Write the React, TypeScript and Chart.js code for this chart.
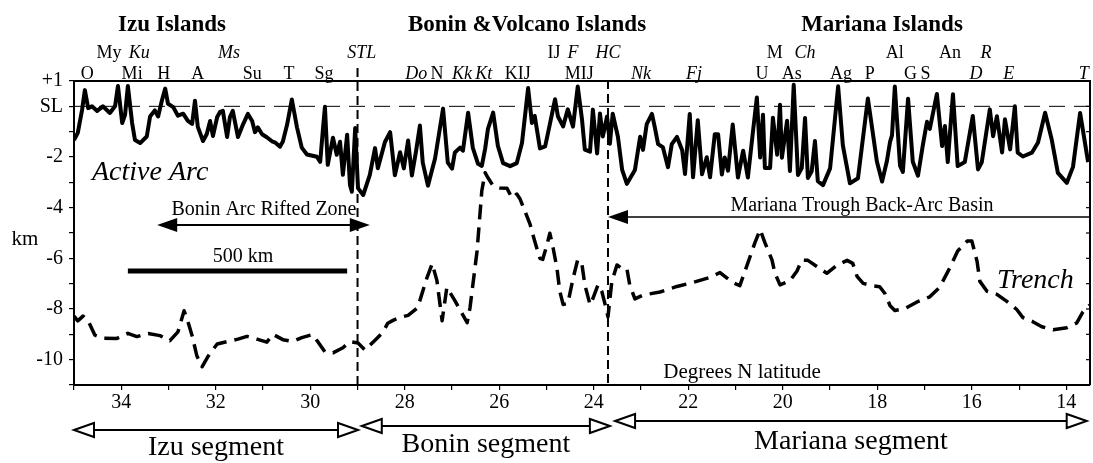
import React, { useEffect, useRef } from 'react';
import { Chart, registerables } from 'chart.js';

Chart.register(...registerables);

const SERIF = '"Liberation Serif", "Times New Roman", Times, serif';
const W = 1093;
const H = 463;

// Active arc crest: latitude (deg N) and elevation (km, relative to sea level)
const arcLat = [
  35.0, 34.92, 34.83, 34.77, 34.70, 34.62, 34.51, 34.39, 34.24, 34.13,
  34.07, 33.98, 33.92, 33.86, 33.77, 33.71, 33.60, 33.46, 33.39, 33.29,
  33.22, 33.14, 33.07, 33.01, 32.90, 32.80, 32.69, 32.59, 32.50, 32.44,
  32.38, 32.27, 32.19, 32.12, 32.06, 31.97, 31.91, 31.85, 31.76, 31.70,
  31.64, 31.53, 31.42, 31.32, 31.23, 31.17, 31.11, 31.02, 30.92, 30.81,
  30.75, 30.64, 30.58, 30.49, 30.39, 30.28, 30.18, 30.07, 29.86, 29.79,
  29.73, 29.69, 29.63, 29.52, 29.44, 29.37, 29.31, 29.22, 29.16, 29.12,
  29.05, 28.99, 28.88, 28.74, 28.63, 28.57, 28.42, 28.31, 28.21, 28.10,
  28.02, 27.93, 27.85, 27.76, 27.68, 27.62, 27.51, 27.36, 27.19, 27.09,
  27.00, 26.94, 26.83, 26.77, 26.66, 26.56, 26.45, 26.37, 26.30, 26.24,
  26.13, 26.03, 25.92, 25.77, 25.63, 25.52, 25.39, 25.31, 25.25, 25.14,
  25.03, 24.97, 24.82, 24.76, 24.65, 24.55, 24.44, 24.34, 24.25, 24.19,
  24.08, 24.02, 23.93, 23.87, 23.81, 23.72, 23.66, 23.60, 23.49, 23.40,
  23.30, 23.13, 23.02, 22.96, 22.88, 22.77, 22.71, 22.64, 22.54, 22.43,
  22.35, 22.24, 22.13, 22.07, 21.97, 21.90, 21.80, 21.71, 21.61, 21.54,
  21.44, 21.37, 21.29, 21.23, 21.16, 21.06, 20.95, 20.84, 20.74, 20.70,
  20.63, 20.55, 20.48, 20.42, 20.38, 20.27, 20.21, 20.12, 20.06, 20.02,
  19.91, 19.85, 19.77, 19.68, 19.60, 19.53, 19.47, 19.39, 19.32, 19.26,
  19.15, 19.00, 18.83, 18.73, 18.58, 18.41, 18.20, 18.01, 17.90, 17.80,
  17.73, 17.69, 17.63, 17.52, 17.46, 17.35, 17.25, 17.14, 17.04, 16.95,
  16.89, 16.74, 16.63, 16.57, 16.51, 16.40, 16.30, 16.15, 15.98, 15.87,
  15.79, 15.62, 15.55, 15.47, 15.36, 15.30, 15.19, 15.09, 15.03, 14.92,
  14.73, 14.60, 14.45, 14.31, 14.18, 13.99, 13.86, 13.71, 13.54,
];
const arcDepth = [
  -1.33, -1.05, -0.15, 0.64, -0.07, 0.0, -0.18, 0.0, -0.26, 0.01,
  0.80, -0.66, -0.34, 0.80, -0.66, -1.33, -1.45, -1.19, -0.40, -0.16,
  -0.40, 0.23, 0.70, 0.10, -0.03, -0.37, -0.29, -0.57, -0.69, 0.22,
  -0.81, -1.37, -1.09, -0.58, -1.17, -0.42, -0.22, -0.18, -1.21, -0.42,
  -0.18, -1.21, -0.70, -0.30, -0.58, -1.02, -0.83, -1.10, -1.22, -1.38,
  -1.42, -1.59, -1.39, -0.72, 0.27, -0.84, -1.63, -1.90, -1.99, -2.19,
  -0.85, -0.02, -2.31, -1.24, -1.91, -1.40, -2.70, -1.12, -3.10, -3.37,
  -0.86, -3.23, -3.50, -2.71, -1.65, -2.44, -1.41, -1.02, -2.72, -1.81,
  -2.45, -1.35, -2.73, -1.75, -0.76, -2.22, -3.13, -2.06, -0.09, -2.22,
  -2.46, -1.82, -1.63, -1.75, -0.25, -1.64, -2.27, -2.35, -1.68, -0.89,
  -0.25, -1.56, -2.24, -2.36, -2.24, -1.45, 0.72, -0.66, -0.38, -1.66,
  -1.58, -1.06, 0.28, -0.39, -0.79, -0.12, -0.80, 0.78, -0.52, -1.71,
  -1.79, -0.13, -1.86, -0.28, -1.19, -0.40, -1.48, -0.29, -1.20, -2.51,
  -3.06, -2.51, -1.20, -1.72, -0.70, -0.30, -0.82, -1.49, -1.61, -2.40,
  -1.49, -1.21, -1.73, -2.67, -0.30, -2.80, -0.55, -2.68, -2.01, -2.80,
  -1.10, -1.10, -2.69, -2.02, -2.54, -0.72, -2.81, -1.75, -2.81, -2.14,
  -0.96, 0.35, -2.02, -0.33, -2.43, -2.43, -0.45, -1.91, 0.06, -2.03,
  -0.57, -2.55, 0.85, -2.71, -2.44, -0.46, -2.83, -2.56, -1.37, -2.95,
  -3.11, -2.45, 0.79, -1.54, -3.04, -2.84, 0.31, -2.18, -2.97, -2.18,
  -1.39, -1.15, 0.78, -2.34, -2.59, 0.30, -2.19, -2.74, -1.56, -0.61,
  -0.89, 0.49, -1.57, -0.78, -2.20, 0.48, -2.36, -2.20, -0.38, -2.49,
  -2.21, -0.12, -1.18, -0.39, -1.82, -0.51, -1.70, 0.0, -1.83, -1.98,
  -1.83, -1.43, -0.25, -1.31, -2.63, -3.02, -2.39, -0.26, -2.20,
];

// Trench axis: latitude (deg N) and depth (km)
const trenchLat = [
  35.0, 34.92, 34.81, 34.70, 34.56, 34.39, 34.09, 33.86, 33.67, 33.43,
  33.18, 32.97, 32.80, 32.67, 32.59, 32.50, 32.40, 32.29, 32.16, 31.97,
  31.70, 31.53, 31.34, 31.11, 30.92, 30.79, 30.58, 30.37, 30.18, 29.96,
  29.84, 29.69, 29.52, 29.31, 29.16, 28.99, 28.84, 28.63, 28.46, 28.36,
  28.25, 28.10, 27.93, 27.74, 27.68, 27.53, 27.42, 27.32, 27.21, 27.11,
  26.94, 26.68, 26.62, 26.47, 26.37, 26.30, 26.24, 26.13, 25.99, 25.84,
  25.73, 25.63, 25.56, 25.46, 25.35, 25.25, 25.14, 25.08, 24.99, 24.93,
  24.86, 24.78, 24.72, 24.65, 24.55, 24.44, 24.34, 24.25, 24.19, 24.08,
  24.02, 23.91, 23.83, 23.76, 23.70, 23.62, 23.51, 23.40, 23.30, 23.24,
  23.13, 22.96, 22.60, 22.24, 21.90, 21.54, 21.33, 21.06, 20.91, 20.76,
  20.59, 20.48, 20.38, 20.23, 20.17, 20.06, 19.85, 19.70, 19.60, 19.47,
  19.28, 19.07, 18.86, 18.64, 18.52, 18.43, 18.30, 18.11, 17.95, 17.84,
  17.73, 17.63, 17.42, 17.16, 16.89, 16.68, 16.46, 16.30, 16.10, 16.00,
  15.89, 15.83, 15.68, 15.47, 15.26, 15.05, 14.92, 14.71, 14.52, 14.28,
  13.99, 13.78, 13.65, 13.50,
];
const trenchDepth = [
  -8.28, -8.47, -8.28, -8.47, -9.03, -9.15, -9.16, -8.96, -9.09, -8.97,
  -9.05, -9.25, -8.90, -8.07, -8.50, -9.06, -9.85, -10.28, -9.86, -9.38,
  -9.26, -9.19, -9.08, -9.20, -9.31, -9.00, -9.21, -9.28, -9.13, -9.01,
  -9.29, -9.69, -9.73, -9.53, -9.29, -9.34, -9.62, -9.23, -8.91, -8.56,
  -8.45, -8.33, -8.25, -7.97, -7.66, -6.76, -6.21, -6.88, -8.46, -7.15,
  -7.67, -8.54, -7.95, -5.70, -3.33, -2.62, -2.82, -3.14, -3.22, -3.23,
  -3.62, -3.46, -3.66, -4.13, -4.65, -5.33, -6.00, -6.04, -5.45, -5.01,
  -5.60, -6.39, -7.30, -7.82, -7.78, -6.80, -6.05, -6.25, -7.04, -7.83,
  -7.59, -7.04, -7.31, -7.83, -8.31, -6.93, -6.26, -6.41, -6.41, -7.05,
  -7.60, -7.45, -7.33, -7.11, -6.95, -6.75, -6.56, -6.96, -7.08, -6.29,
  -5.38, -4.87, -5.38, -6.06, -6.57, -7.05, -6.89, -6.50, -6.07, -6.08,
  -6.32, -6.59, -6.28, -6.08, -6.20, -6.71, -6.99, -7.08, -7.12, -7.39,
  -7.87, -8.06, -7.99, -7.72, -7.52, -7.14, -6.35, -5.71, -5.32, -5.32,
  -6.12, -6.91, -7.30, -7.42, -7.70, -8.02, -8.34, -8.50, -8.70, -8.82,
  -8.74, -8.55, -8.11, -7.84,
];

// Axis ticks
const depthTickValues = [1, 0, -2, -4, -6, -8, -10];
const depthTickText = ['+1', 'SL', '-2', '-4', '-6', '-8', '-10'];
const latTickValues = [34, 32, 30, 28, 26, 24, 22, 20, 18, 16, 14];

// Volcano labels, upper and lower rows (latitude of each label)
const upperNames = ['My', 'Ku', 'Ms', 'STL', 'IJ', 'F', 'HC', 'M', 'Ch', 'Al', 'An', 'R'];
const upperLats = [34.26, 33.62, 31.72, 28.91, 24.84, 24.44, 23.70, 20.17, 19.53, 17.63, 16.46, 15.70];
const upperItalic = [false, true, true, true, false, true, true, false, true, false, false, true];
const lowerNames = ['O', 'Mi', 'H', 'A', 'Su', 'T', 'Sg', 'Do', 'N', 'Kk', 'Kt', 'KIJ', 'MIJ', 'Nk', 'Fj',
  'U', 'As', 'Ag', 'P', 'G', 'S', 'D', 'E', 'T'];
const lowerLats = [34.72, 33.77, 33.10, 32.38, 31.23, 30.45, 29.71, 27.76, 27.32, 26.79, 26.33, 25.61, 24.31,
  23.0, 21.88, 20.44, 19.81, 18.77, 18.16, 17.30, 16.98, 15.91, 15.22, 13.63];
const lowerItalic = [false, false, false, false, false, false, false, true, false, true, true, false, false,
  true, true, false, false, false, false, false, false, true, true, true];

// Segment boundaries (STL and HC) and segment extents
const boundaryLats = [29.0, 23.7];
const segmentNames = ['Izu segment', 'Bonin segment', 'Mariana segment'];
const segmentNorth = [35.0, 28.91, 23.55];
const segmentSouth = [28.99, 23.66, 13.57];

// Extents of the annotated zones
const riftedZoneLats = [33.24, 28.74];
const backArcLats = [23.7, 13.5];
const scaleBarLats = [33.86, 29.22];

function filledHead(ctx: CanvasRenderingContext2D, tipX: number, y: number, dir: number, len: number, half: number) {
  ctx.beginPath();
  ctx.moveTo(tipX, y);
  ctx.lineTo(tipX - dir * len, y - half);
  ctx.lineTo(tipX - dir * len, y + half);
  ctx.closePath();
  ctx.fill();
}

function hollowHead(ctx: CanvasRenderingContext2D, tipX: number, y: number, dir: number, len: number, half: number) {
  ctx.beginPath();
  ctx.moveTo(tipX, y);
  ctx.lineTo(tipX - dir * len, y - half);
  ctx.lineTo(tipX - dir * len, y + half);
  ctx.closePath();
  ctx.fillStyle = '#fff';
  ctx.fill();
  ctx.stroke();
  ctx.fillStyle = '#000';
}

function label(ctx: CanvasRenderingContext2D, s: string, x: number, y: number, font: string, align: CanvasTextAlign = 'center') {
  ctx.font = font;
  ctx.textAlign = align;
  ctx.textBaseline = 'alphabetic';
  ctx.fillText(s, x, y);
}

const annotations = {
  id: 'arcAnnotations',
  beforeDraw(chart: any) {
    const ctx = chart.ctx;
    ctx.save();
    ctx.fillStyle = '#fff';
    ctx.fillRect(0, 0, chart.width, chart.height);
    ctx.restore();
  },
  beforeDatasetsDraw(chart: any) {
    const ctx: CanvasRenderingContext2D = chart.ctx;
    const xs = chart.scales.x;
    const ys = chart.scales.y;
    const { left, right, bottom, top } = chart.chartArea;
    ctx.save();
    ctx.strokeStyle = '#000';
    // sea level
    ctx.lineWidth = 1;
    ctx.setLineDash([16, 9]);
    const ySL = ys.getPixelForValue(0);
    ctx.beginPath();
    ctx.moveTo(left, ySL);
    ctx.lineTo(right, ySL);
    ctx.stroke();
    // segment boundaries
    ctx.lineWidth = 2;
    ctx.setLineDash([9, 5]);
    boundaryLats.forEach((lat, i) => {
      const x = xs.getPixelForValue(lat);
      ctx.beginPath();
      ctx.moveTo(x, i === 0 ? top - 13 : top - 1);
      ctx.lineTo(x, bottom);
      ctx.stroke();
    });
    ctx.restore();
  },
  afterDraw(chart: any) {
    const ctx: CanvasRenderingContext2D = chart.ctx;
    const xs = chart.scales.x;
    const ys = chart.scales.y;
    const X = (v: number) => xs.getPixelForValue(v);
    const { left, right, top, bottom } = chart.chartArea;
    ctx.save();
    ctx.strokeStyle = '#000';
    ctx.fillStyle = '#000';
    ctx.setLineDash([]);

    // frame
    ctx.lineWidth = 2;
    ctx.beginPath();
    ctx.moveTo(left, top);
    ctx.lineTo(right, top);
    ctx.lineTo(right, bottom);
    ctx.stroke();
    ctx.lineWidth = 1.2;
    for (let v = -11; v <= 1; v++) {
      const y = ys.getPixelForValue(v);
      ctx.beginPath();
      ctx.moveTo(right - 4, y);
      ctx.lineTo(right, y);
      ctx.stroke();
    }

    // region titles
    const bold = `bold 23px ${SERIF}`;
    label(ctx, 'Izu Islands', 172, 31, bold);
    label(ctx, 'Bonin &Volcano Islands', 527, 31, bold);
    label(ctx, 'Mariana Islands', 882, 31, bold);

    // volcano labels
    upperNames.forEach((n, i) => {
      label(ctx, n, X(upperLats[i]), 58, `${upperItalic[i] ? 'italic ' : ''}18px ${SERIF}`);
    });
    lowerNames.forEach((n, i) => {
      label(ctx, n, X(lowerLats[i]), 79, `${lowerItalic[i] ? 'italic ' : ''}18px ${SERIF}`);
    });

    // y-axis title
    label(ctx, 'km', 25, 245, `21px ${SERIF}`);

    // in-plot text
    label(ctx, 'Active Arc', 92, 180, `italic 28px ${SERIF}`, 'left');
    label(ctx, 'Trench', 997, 288, `italic 28px ${SERIF}`, 'left');
    label(ctx, 'Bonin Arc Rifted Zone', 264, 215, `20px ${SERIF}`);
    label(ctx, '500 km', 243, 262, `20px ${SERIF}`);
    label(ctx, 'Mariana Trough Back-Arc Basin', 862, 211, `20px ${SERIF}`);
    label(ctx, 'Degrees N latitude', 742, 378, `21px ${SERIF}`);

    // rifted zone double arrow
    const rzL = X(riftedZoneLats[0]);
    const rzR = X(riftedZoneLats[1]);
    const rzY = 225;
    ctx.lineWidth = 2;
    ctx.beginPath();
    ctx.moveTo(rzL + 10, rzY);
    ctx.lineTo(rzR - 10, rzY);
    ctx.stroke();
    filledHead(ctx, rzL, rzY, -1, 20, 7);
    filledHead(ctx, rzR, rzY, 1, 20, 7);

    // back-arc basin arrow
    const baL = X(backArcLats[0]);
    const baR = X(backArcLats[1]);
    const baY = 217;
    ctx.lineWidth = 1.6;
    ctx.beginPath();
    ctx.moveTo(baL + 10, baY);
    ctx.lineTo(baR, baY);
    ctx.stroke();
    filledHead(ctx, baL, baY, -1, 20, 7);

    // 500 km scale bar
    ctx.lineWidth = 5;
    ctx.beginPath();
    ctx.moveTo(X(scaleBarLats[0]), 271);
    ctx.lineTo(X(scaleBarLats[1]), 271);
    ctx.stroke();

    // segment arrows beneath the axis
    const segY = [430, 426, 421];
    const segTextY = [455, 452, 449];
    ctx.lineWidth = 2;
    segmentNames.forEach((name, i) => {
      const xl = X(segmentNorth[i]);
      const xr = X(segmentSouth[i]);
      const y = segY[i];
      ctx.beginPath();
      ctx.moveTo(xl + 20, y);
      ctx.lineTo(xr - 20, y);
      ctx.stroke();
      hollowHead(ctx, xl, y, -1, 20, 7);
      hollowHead(ctx, xr, y, 1, 20, 7);
      label(ctx, name, (xl + xr) / 2, segTextY[i], `28px ${SERIF}`);
    });
    ctx.restore();
  },
};

export default function App() {
  const ref = useRef<HTMLCanvasElement>(null);

  useEffect(() => {
    const canvas = ref.current;
    if (!canvas) return;
    Chart.defaults.font.family = SERIF;
    const chart = new Chart(canvas, {
      type: 'line',
      data: {
        datasets: [
          {
            label: 'Active Arc',
            data: arcLat.map((x, i) => ({ x, y: arcDepth[i] })),
            borderColor: '#000',
            borderWidth: 4,
            borderJoinStyle: 'round',
            pointRadius: 0,
            tension: 0,
            fill: false,
          },
          {
            label: 'Trench',
            data: trenchLat.map((x, i) => ({ x, y: trenchDepth[i] })),
            borderColor: '#000',
            borderWidth: 3.5,
            borderDash: [15, 8],
            borderJoinStyle: 'round',
            pointRadius: 0,
            tension: 0,
            fill: false,
          },
        ],
      },
      options: {
        responsive: false,
        animation: false,
        devicePixelRatio: 1,
        layout: { padding: { left: 0, right: 3, top: 81, bottom: 0 } },
        plugins: {
          legend: { display: false },
          tooltip: { enabled: false },
          title: { display: false },
        },
        scales: {
          x: {
            type: 'linear',
            reverse: true,
            min: 13.5,
            max: 35,
            afterBuildTicks: (s: any) => {
              s.ticks = s.ticks.filter((t: any) => Number.isInteger(t.value));
            },
            afterFit: (s: any) => {
              s.height = 78;
            },
            ticks: {
              stepSize: 1,
              includeBounds: false,
              autoSkip: false,
              maxRotation: 0,
              padding: 1,
              color: '#000',
              font: { family: SERIF, size: 20 },
              callback: (v: any) => (latTickValues.includes(Number(v)) ? String(v) : ''),
            },
            grid: { display: true, drawOnChartArea: false, drawTicks: true, tickLength: 5, color: '#000', lineWidth: 1.2 },
            border: { display: true, color: '#000', width: 2 },
          },
          y: {
            type: 'linear',
            min: -11,
            max: 1,
            afterFit: (s: any) => {
              s.width = 74;
            },
            ticks: {
              stepSize: 1,
              autoSkip: false,
              padding: 6,
              color: '#000',
              font: { family: SERIF, size: 20 },
              callback: (v: any) => {
                const i = depthTickValues.indexOf(Number(v));
                return i >= 0 ? depthTickText[i] : '';
              },
            },
            grid: { display: true, drawOnChartArea: false, drawTicks: true, tickLength: 5, color: '#000', lineWidth: 1.2 },
            border: { display: true, color: '#000', width: 2 },
          },
        },
      },
      plugins: [annotations],
    } as any);
    return () => chart.destroy();
  }, []);

  return (
    <div style={{ position: 'fixed', left: 0, top: 0, width: W, height: H, background: '#fff' }}>
      <canvas ref={ref} width={W} height={H} style={{ display: 'block', width: W, height: H }} />
    </div>
  );
}
